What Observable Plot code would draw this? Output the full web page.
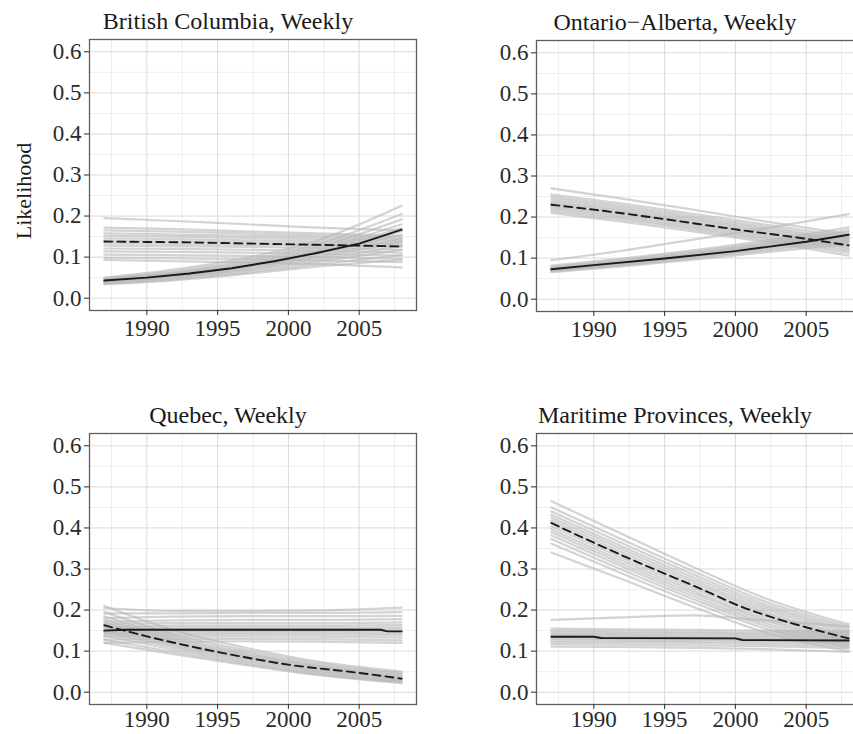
<!DOCTYPE html>
<html><head><meta charset="utf-8">
<script src="https://cdn.jsdelivr.net/npm/d3@7"></script>
<script src="https://cdn.jsdelivr.net/npm/@observablehq/plot@0.6"></script>
<style>
html,body{margin:0;padding:0;background:#fff;}
#wrap{position:relative;width:853px;height:734px;overflow:hidden;background:#fff;}
#wrap svg{position:absolute;}
</style></head><body><div id="wrap"></div>
<script>
// ---------- data ----------
const xTicks = [1990, 1995, 2000, 2005];
const yTicks = [0, 0.1, 0.2, 0.3, 0.4, 0.5, 0.6];
const drawYears = [1987, 1992, 1997, 2002, 2008];

// British Columbia
const bcSolidYears = [1987, 1990, 1993, 1996, 1999, 2002, 2005, 2008];
const bcSolid      = [0.043, 0.050, 0.060, 0.073, 0.090, 0.110, 0.133, 0.167];
const bcDashedYears = [1987, 1990, 1993, 1996, 1999, 2002, 2005, 2008];
const bcDashed      = [0.138, 0.137, 0.136, 0.134, 0.132, 0.130, 0.128, 0.126];
const bcSolidDraws = [
  [0.050,0.070,0.098,0.140,0.225],[0.048,0.066,0.092,0.131,0.205],[0.047,0.063,0.088,0.124,0.192],
  [0.045,0.061,0.084,0.118,0.180],[0.044,0.059,0.081,0.114,0.171],[0.043,0.058,0.079,0.110,0.163],
  [0.042,0.056,0.077,0.106,0.155],[0.041,0.055,0.075,0.102,0.146],[0.040,0.053,0.072,0.098,0.138],
  [0.039,0.051,0.069,0.093,0.128],[0.037,0.049,0.066,0.088,0.118],[0.035,0.046,0.062,0.082,0.105],
  [0.034,0.044,0.059,0.077,0.094]
];
const bcDashedDraws = [
  [0.195,0.188,0.180,0.172,0.165],[0.172,0.168,0.163,0.158,0.152],[0.165,0.162,0.158,0.153,0.148],
  [0.158,0.155,0.152,0.148,0.143],[0.152,0.150,0.147,0.143,0.139],[0.146,0.144,0.141,0.138,0.134],
  [0.140,0.138,0.136,0.133,0.130],[0.134,0.132,0.130,0.128,0.125],[0.128,0.127,0.125,0.122,0.118],
  [0.121,0.120,0.118,0.115,0.111],[0.114,0.113,0.111,0.108,0.104],[0.106,0.105,0.103,0.100,0.096],
  [0.098,0.097,0.095,0.092,0.088],[0.093,0.090,0.087,0.083,0.075]
];

// Ontario-Alberta
const onSolidYears = [1987, 1990, 1995, 2000, 2005, 2008];
const onSolid      = [0.073, 0.083, 0.099, 0.117, 0.140, 0.157];
const onDashedYears = [1987, 1990, 1995, 2000, 2005, 2008];
const onDashed      = [0.230, 0.218, 0.195, 0.170, 0.147, 0.131];
const onSolidDraws = [
  [0.095,0.118,0.145,0.172,0.207],[0.082,0.099,0.119,0.142,0.175],[0.079,0.096,0.115,0.137,0.168],
  [0.077,0.093,0.112,0.134,0.164],[0.075,0.091,0.110,0.131,0.160],[0.074,0.090,0.108,0.129,0.157],
  [0.072,0.088,0.106,0.126,0.153],[0.071,0.086,0.104,0.124,0.150],[0.069,0.084,0.101,0.121,0.145],
  [0.068,0.082,0.099,0.118,0.140],[0.066,0.080,0.096,0.114,0.134]
];
const onDashedDraws = [
  [0.270,0.245,0.218,0.190,0.158],[0.255,0.233,0.208,0.182,0.152],[0.250,0.228,0.203,0.177,0.146],
  [0.245,0.223,0.198,0.173,0.142],[0.240,0.218,0.194,0.169,0.138],[0.236,0.214,0.190,0.165,0.134],
  [0.232,0.210,0.186,0.161,0.130],[0.228,0.206,0.182,0.157,0.126],[0.224,0.202,0.178,0.153,0.122],
  [0.220,0.198,0.174,0.149,0.118],[0.215,0.194,0.170,0.145,0.113],[0.210,0.189,0.165,0.140,0.106]
];

// Quebec
const qcSolidYears = [1987, 1988.5, 2006.5, 2007, 2008];
const qcSolid      = [0.150, 0.152, 0.152, 0.148, 0.148];
const qcDashedYears = [1987, 1990, 1995, 2000, 2005, 2008];
const qcDashed      = [0.163, 0.136, 0.098, 0.067, 0.047, 0.033];
const qcSolidDraws = [
  [0.205,0.198,0.198,0.199,0.206],[0.192,0.192,0.193,0.193,0.195],[0.180,0.184,0.185,0.185,0.186],
  [0.172,0.175,0.176,0.176,0.178],[0.166,0.168,0.168,0.168,0.170],[0.160,0.162,0.162,0.162,0.164],
  [0.156,0.157,0.157,0.157,0.158],[0.152,0.153,0.153,0.153,0.153],[0.148,0.149,0.149,0.149,0.149],
  [0.144,0.145,0.145,0.145,0.144],[0.140,0.141,0.141,0.140,0.139],[0.135,0.136,0.136,0.135,0.133],
  [0.128,0.130,0.130,0.129,0.126],[0.120,0.123,0.124,0.123,0.120]
];
const qcDashedDraws = [
  [0.210,0.150,0.108,0.075,0.050],[0.195,0.140,0.102,0.071,0.047],[0.185,0.133,0.097,0.067,0.044],
  [0.177,0.128,0.093,0.064,0.041],[0.170,0.124,0.090,0.062,0.038],[0.164,0.120,0.087,0.059,0.035],
  [0.158,0.116,0.084,0.056,0.032],[0.152,0.112,0.081,0.053,0.030],[0.146,0.108,0.077,0.050,0.028],
  [0.138,0.103,0.073,0.047,0.026],[0.128,0.097,0.069,0.044,0.024],[0.120,0.092,0.066,0.042,0.022]
];

// Maritime Provinces
const mpSolidYears = [1987, 1990, 1990.5, 2000, 2000.5, 2008];
const mpSolid      = [0.135, 0.135, 0.132, 0.131, 0.127, 0.126];
const mpDashedYears = [1987, 1990, 1993, 1995, 1998, 2000, 2003, 2005, 2008];
const mpDashed      = [0.412, 0.364, 0.318, 0.289, 0.245, 0.214, 0.178, 0.158, 0.131];
const mpSolidDraws = [
  [0.176,0.182,0.187,0.175,0.160],[0.155,0.153,0.152,0.150,0.148],[0.150,0.148,0.147,0.145,0.143],
  [0.146,0.144,0.143,0.141,0.138],[0.142,0.140,0.139,0.137,0.134],[0.139,0.137,0.135,0.133,0.130],
  [0.135,0.133,0.131,0.129,0.126],[0.131,0.129,0.128,0.126,0.122],[0.127,0.125,0.124,0.122,0.118],
  [0.122,0.121,0.120,0.117,0.113],[0.117,0.116,0.114,0.112,0.107],[0.111,0.110,0.108,0.105,0.098]
];
const mpDashedDraws = [
  [0.465,0.385,0.305,0.230,0.165],[0.450,0.372,0.295,0.222,0.160],[0.440,0.363,0.287,0.215,0.155],
  [0.432,0.355,0.280,0.209,0.150],[0.425,0.348,0.273,0.203,0.145],[0.418,0.341,0.267,0.197,0.140],
  [0.411,0.334,0.260,0.192,0.136],[0.404,0.327,0.254,0.186,0.131],[0.397,0.320,0.247,0.180,0.127],
  [0.390,0.313,0.241,0.175,0.123],[0.382,0.306,0.234,0.169,0.118],[0.373,0.298,0.227,0.163,0.113],
  [0.362,0.289,0.219,0.156,0.108],[0.340,0.275,0.208,0.147,0.100]
];

const titles = ["British Columbia, Weekly", "Ontario\u2212Alberta, Weekly", "Quebec, Weekly", "Maritime Provinces, Weekly"];
const yLabel = "Likelihood";

// ---------- drawing ----------
const FONT = "'Liberation Serif', 'Times New Roman', 'DejaVu Serif', serif";

function toRows(years, vals) { return years.map((y, i) => ({year: y, value: vals[i]})); }
function drawRows(draws, tag) {
  const rows = [];
  draws.forEach((vals, k) => vals.forEach((v, i) => rows.push({year: drawYears[i], value: v, id: tag + k})));
  return rows;
}

function panel(cfg) {
  const grays = drawRows(cfg.solidDraws, "s").concat(drawRows(cfg.dashedDraws, "d"));
  const marks = [
    Plot.gridX({ticks: [1987.5, 1992.5, 1997.5, 2002.5, 2007.5], stroke: "#eeeeee", strokeOpacity: 1}),
    Plot.gridY({ticks: [0.05, 0.15, 0.25, 0.35, 0.45, 0.55], stroke: "#eeeeee", strokeOpacity: 1}),
    Plot.gridX({ticks: xTicks, stroke: "#d9d9d9", strokeOpacity: 1}),
    Plot.gridY({ticks: yTicks, stroke: "#d9d9d9", strokeOpacity: 1}),
    Plot.line(grays, {x: "year", y: "value", z: "id", stroke: "#b8b8b8", strokeWidth: 2.2, strokeOpacity: 0.62, curve: "monotone-x"}),
    Plot.line(toRows(cfg.solidYears, cfg.solid), {x: "year", y: "value", stroke: "#1a1a1a", strokeWidth: 1.9}),
    Plot.line(toRows(cfg.dashedYears, cfg.dashed), {x: "year", y: "value", stroke: "#1a1a1a", strokeWidth: 1.9, strokeDasharray: "8,5", curve: "monotone-x"}),
    Plot.frame({stroke: "#5e5e5e", strokeWidth: 1.3}),
    Plot.axisX({ticks: xTicks, tickSize: 5, tickPadding: cfg.xPad, tickFormat: d => String(d), label: null, fontSize: 23}),
    Plot.axisY({ticks: yTicks, tickSize: 5, tickPadding: 3, tickFormat: d3.format(".1f"), label: null, fontSize: 23}),
    Plot.text([cfg.title], {text: d => d, frameAnchor: "top", lineAnchor: "middle", textAnchor: "middle", dx: -25, dy: -18, fontSize: 24, fill: "#1a1a1a"})
  ];
  if (cfg.yLabel) {
    marks.push(Plot.text([cfg.yLabel], {text: d => d, frameAnchor: "left", rotate: -90, textAnchor: "middle", lineAnchor: "middle", dx: -66, dy: 16, fontSize: 22, fill: "#1a1a1a"}));
  }
  const svg = Plot.plot({
    width: 430, height: 360,
    marginLeft: 89, marginRight: 14, marginTop: 39, marginBottom: 50,
    x: {domain: [1985.95, 2009.05]},
    y: {domain: [-0.03, 0.63]},
    style: {fontFamily: FONT, fontSize: "23px", color: "#2a2a2a", background: "transparent", overflow: "visible"},
    marks
  });
  svg.style.left = cfg.left + "px";
  svg.style.top = cfg.top + "px";
  return svg;
}

const wrap = document.getElementById("wrap");
wrap.appendChild(panel({title: titles[0], yLabel, left: 0, top: 0, xPad: 4,
  solidYears: bcSolidYears, solid: bcSolid, dashedYears: bcDashedYears, dashed: bcDashed,
  solidDraws: bcSolidDraws, dashedDraws: bcDashedDraws}));
wrap.appendChild(panel({title: titles[1], left: 447, top: 1, xPad: 4,
  solidYears: onSolidYears, solid: onSolid, dashedYears: onDashedYears, dashed: onDashed,
  solidDraws: onSolidDraws, dashedDraws: onDashedDraws}));
wrap.appendChild(panel({title: titles[2], left: 0, top: 394, xPad: 1,
  solidYears: qcSolidYears, solid: qcSolid, dashedYears: qcDashedYears, dashed: qcDashed,
  solidDraws: qcSolidDraws, dashedDraws: qcDashedDraws}));
wrap.appendChild(panel({title: titles[3], left: 447, top: 394, xPad: 1,
  solidYears: mpSolidYears, solid: mpSolid, dashedYears: mpDashedYears, dashed: mpDashed,
  solidDraws: mpSolidDraws, dashedDraws: mpDashedDraws}));
</script></body></html>
